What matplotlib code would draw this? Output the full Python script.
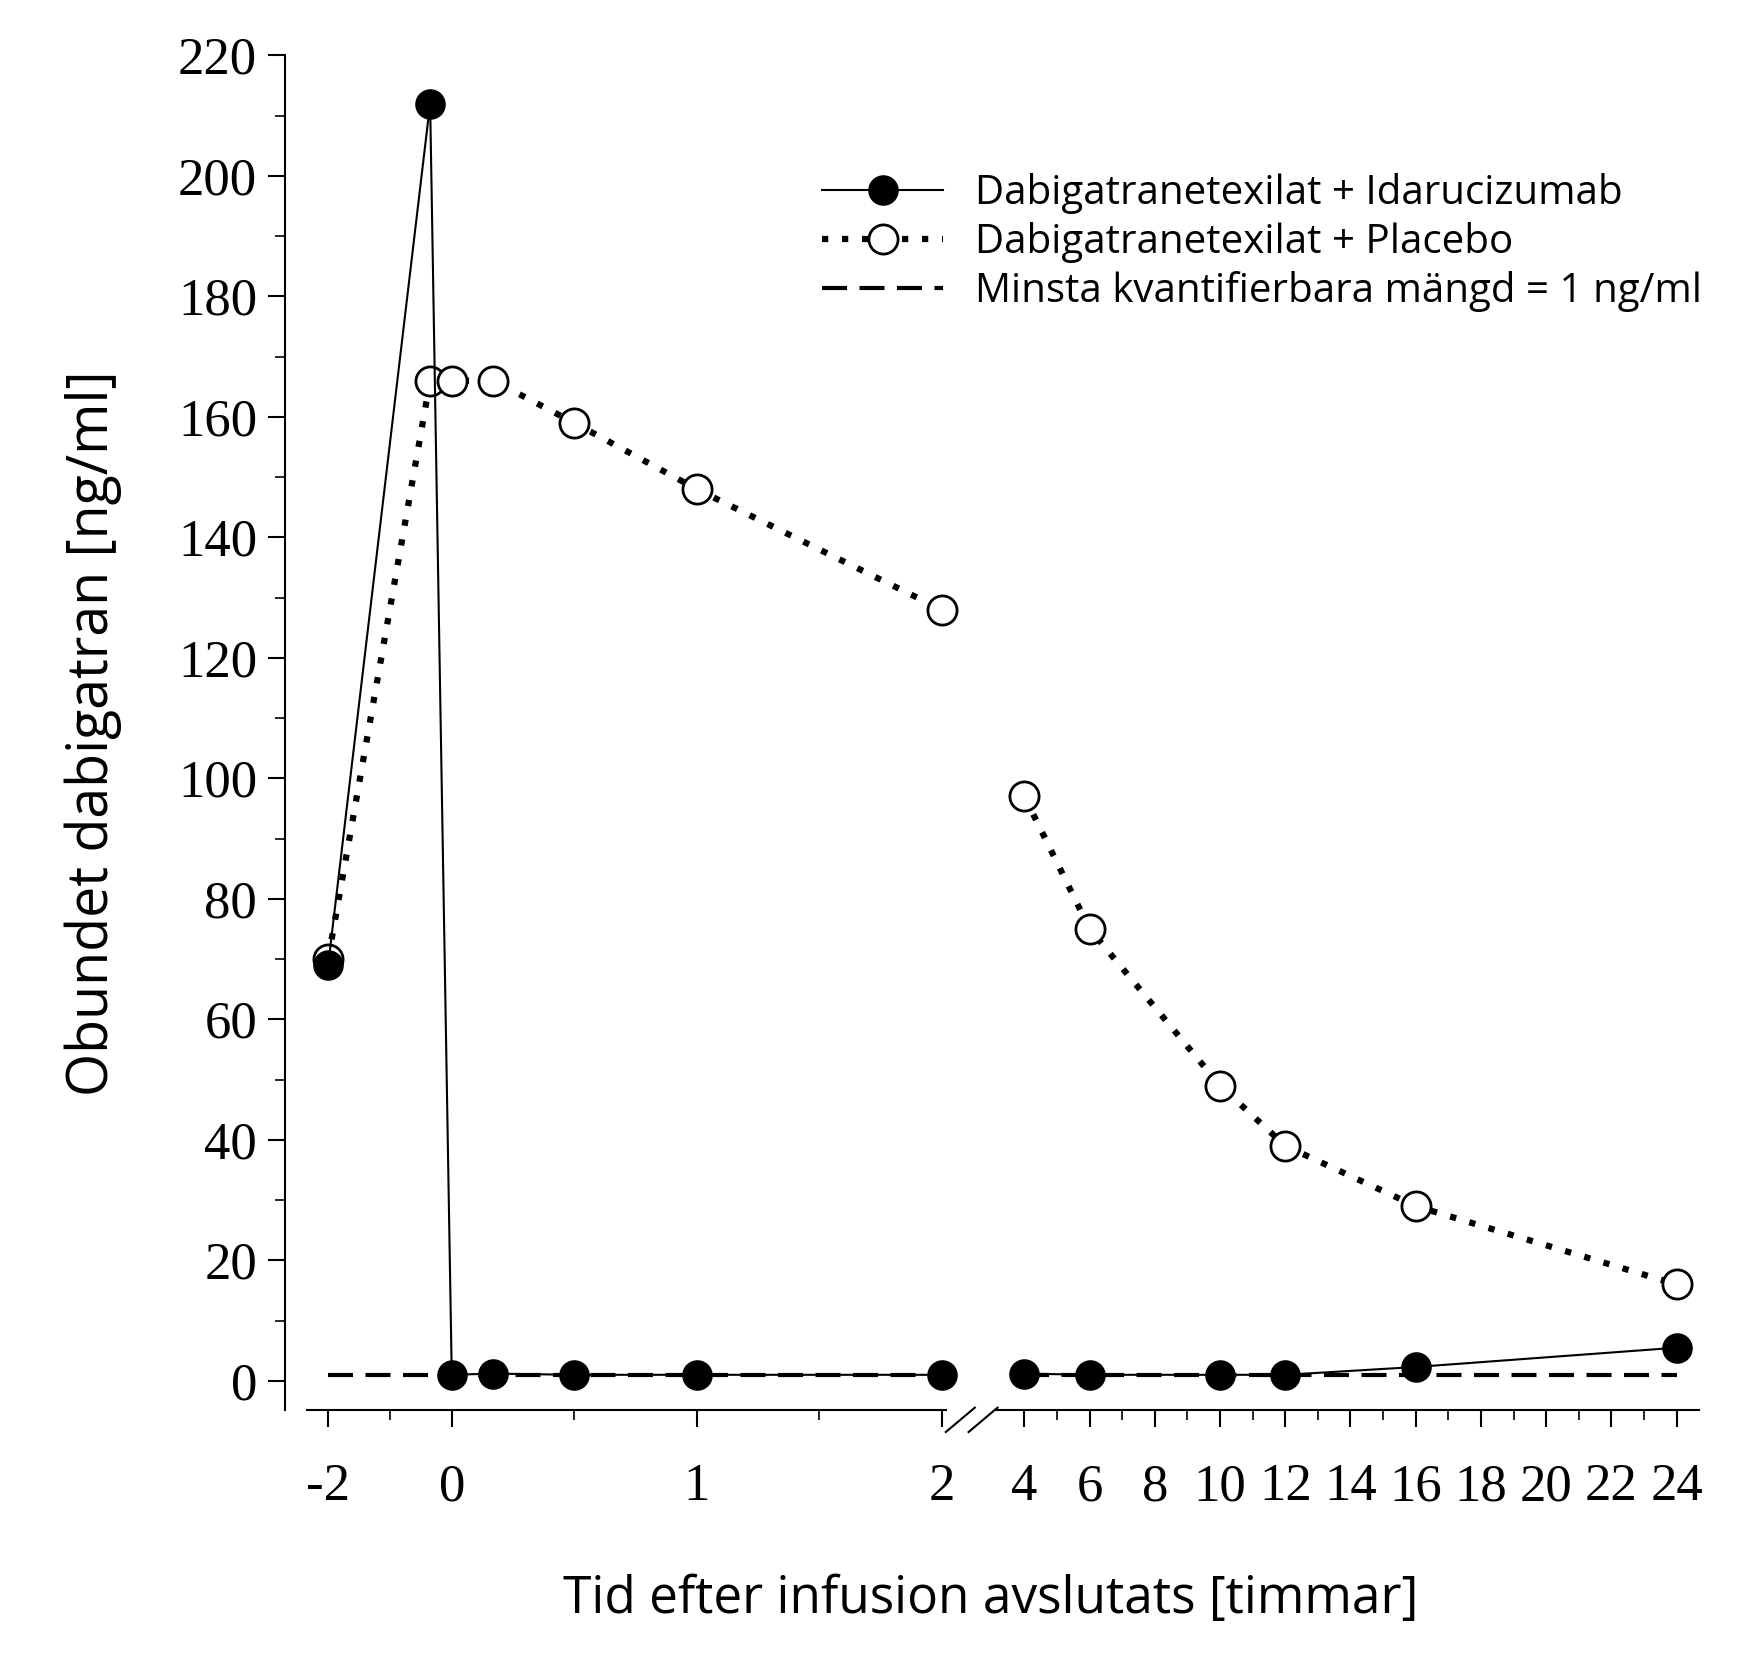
import matplotlib
matplotlib.use("Agg")
import matplotlib.pyplot as plt
import matplotlib.transforms as mtransforms
from matplotlib.lines import Line2D
import numpy as np

# time in hours (axis is piecewise: -2..0 compressed, 0..2 stretched, 4..24 compressed)
t_ida = [-2, -0.35, 0, 0.17, 0.5, 1, 2, 4, 6, 10, 12, 16, 24]
ida = [69, 212, 1, 1.2, 1, 1, 1, 1.2, 1, 1, 1, 2.3, 5.5]
t_pla = [-2, -0.35, 0, 0.17, 0.5, 1, 2, 4, 6, 10, 12, 16, 24]
pla = [70, 166, 166, 166, 159, 148, 128, 97, 75, 49, 39, 29, 16]
lloq = 1
xticks = [-2, 0, 1, 2, 4, 6, 8, 10, 12, 14, 16, 18, 20, 22, 24]
xlabels = ["-2", "0", "1", "2", "4", "6", "8", "10", "12", "14", "16", "18", "20", "22", "24"]

bx = np.array([-3, -2, 0, 2, 4, 24, 26], dtype=float)
bp = np.array([236.5, 291, 400, 832, 905, 1480, 1537.5])

def fwd(x):
    return np.interp(x, bx, bp)

def inv(p):
    return np.interp(p, bp, bx)

fig = plt.figure(figsize=(17.64, 16.77), dpi=100)
ax = fig.add_axes([0.1615, 0.159, 0.80, 0.808])
ax.set_xscale("function", functions=(fwd, inv))

def split(t, y):
    a = [(ti, yi) for ti, yi in zip(t, y) if ti <= 2]
    b = [(ti, yi) for ti, yi in zip(t, y) if ti >= 4]
    return [list(zip(*a)), list(zip(*b))]

for seg in split(t_pla, pla):
    ax.plot(seg[0], seg[1], color="black", ls=(0, (1, 2.2)), lw=4.5, marker="o",
            ms=21, mfc="white", mec="black", mew=2, zorder=2)
for seg in split(t_ida, ida):
    ax.plot(seg[0], seg[1], color="black", ls="-", lw=1.5, marker="o",
            ms=21, mfc="black", mec="black", zorder=3)
ax.plot([-2, 2], [lloq, lloq], color="black", ls=(0, (6, 3)), lw=3, zorder=1)
ax.plot([4, 24], [lloq, lloq], color="black", ls=(0, (6, 3)), lw=3, zorder=1)

ax.set_xlim(-2.7, 24.6)
ax.set_ylim(-4.9, 220)

for s in ["top", "right"]:
    ax.spines[s].set_visible(False)
ax.spines["left"].set_linewidth(1.5)
ax.spines["bottom"].set_linewidth(1.5)
ax.spines["bottom"].set_bounds(-2.35, 2.1)
tr = mtransforms.blended_transform_factory(ax.transData, ax.transAxes)
ax.plot([3.3, 24.7], [0, 0], color="black", lw=1.5, transform=tr, clip_on=False)
for x0 in [2.1, 2.65]:
    ax.plot([x0, x0 + 0.7], [-0.016, 0.002], color="black", lw=1.5, transform=tr, clip_on=False)

ax.set_yticks(range(0, 221, 20))
ax.set_yticks(range(0, 221, 10), minor=True)
ax.set_xticks(xticks)
ax.set_xticklabels(xlabels)
ax.set_xticks([-1, 0.5, 1.5, 5, 7, 9, 11, 13, 15, 17, 19, 21, 23], minor=True)
ax.tick_params(axis="both", which="major", direction="out", length=12, width=1.5,
               labelsize=38, labelfontfamily="Liberation Serif")
ax.tick_params(axis="both", which="minor", direction="out", length=7, width=1.2)
ax.tick_params(axis="x", which="major", pad=26)
ax.tick_params(axis="y", which="major", pad=8)

ax.set_ylabel("Obundet dabigatran [ng/ml]", fontsize=40, family="Open Sans", labelpad=40)
ax.set_xlabel("Tid efter infusion avslutats [timmar]", fontsize=37, family="Open Sans", labelpad=45)

handles = [
    Line2D([], [], color="black", lw=1.5, marker="o", ms=21, mfc="black"),
    Line2D([], [], color="black", ls=(0, (1, 2.2)), lw=4.5, marker="o", ms=21, mfc="white", mew=2),
    Line2D([], [], color="black", ls=(0, (6, 3)), lw=3),
]
ax.legend(handles, ["Dabigatranetexilat + Idarucizumab", "Dabigatranetexilat + Placebo",
                    "Minsta kvantifierbara mängd = 1 ng/ml"],
          loc="upper right", bbox_to_anchor=(1.03, 0.94), frameon=False,
          prop={"family": "Open Sans", "size": 29}, handlelength=3.0, labelspacing=0.2,
          handletextpad=0.8)

fig.savefig("out.png", dpi=100)
